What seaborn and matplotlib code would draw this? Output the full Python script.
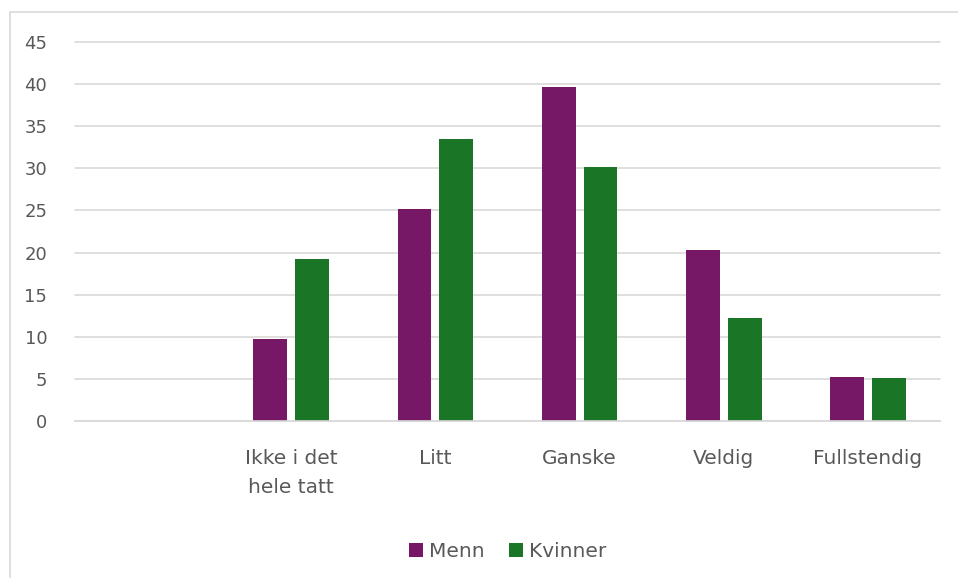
import seaborn as sns
import matplotlib.pyplot as plt
import pandas as pd
import numpy as np
from matplotlib.lines import Line2D

# Data
categories = ["", "Ikke i det\nhele tatt", "Litt", "Ganske", "Veldig", "Fullstendig"]
menn = [np.nan, 9.7, 25.2, 39.7, 20.3, 5.2]
kvinner = [np.nan, 19.2, 33.5, 30.2, 12.2, 5.1]
series = ["Menn", "Kvinner"]
colors = ["#761866", "#1B7527"]

df = pd.DataFrame({
    "kategori": categories * 2,
    "gruppe": ["Menn"] * len(categories) + ["Kvinner"] * len(categories),
    "verdi": menn + kvinner,
})

sns.set_theme(style="white")
plt.rcParams["font.family"] = ["DejaVu Sans"]
text_color = "#595959"

fig = plt.figure(figsize=(9.58, 5.78), dpi=100)
ax = fig.add_axes([75 / 958, 1 - 421 / 578, 865 / 958, 379 / 578])

# light gray frame: only left and top edges are inside the picture
x0, y0 = 10 / 958, 1 - 12 / 578
fig.add_artist(Line2D([x0, x0], [0, y0], transform=fig.transFigure,
                      color="#d9d9d9", linewidth=1.2))
fig.add_artist(Line2D([x0, 1], [y0, y0], transform=fig.transFigure,
                      color="#d9d9d9", linewidth=1.2))

sns.barplot(data=df, x="kategori", y="verdi", hue="gruppe", order=categories,
            hue_order=series, palette=colors, width=0.58, gap=0.19,
            saturation=1, linewidth=0, ax=ax, legend=True)

ax.set_ylim(0, 45)
ax.set_yticks(range(0, 46, 5))
ax.set_xlim(-0.5, len(categories) - 0.5)
ax.yaxis.grid(True, color="#d9d9d9", linewidth=1.2)
for gl in ax.yaxis.get_gridlines():
    gl.set_clip_on(False)
ax.set_axisbelow(True)
for side in ["top", "right", "left"]:
    ax.spines[side].set_visible(False)
ax.spines["bottom"].set_color("#d9d9d9")
ax.spines["bottom"].set_linewidth(1.2)
ax.set_xlabel("")
ax.set_ylabel("")
ax.tick_params(axis="y", labelsize=13, labelcolor=text_color, length=0, pad=20)
ax.tick_params(axis="x", labelsize=14.5, labelcolor=text_color, length=0, pad=20)
for lbl in ax.get_xticklabels():
    lbl.set_linespacing(1.7)

handles, labels = ax.get_legend_handles_labels()
ax.legend(handles, labels, loc="center", bbox_to_anchor=(0.5, -0.345),
          ncol=2, frameon=False, fontsize=14.5, labelcolor=text_color,
          handlelength=0.7, handleheight=0.7, handletextpad=0.3,
          columnspacing=1.2)

fig.savefig("out.png", dpi=100, facecolor="white")
